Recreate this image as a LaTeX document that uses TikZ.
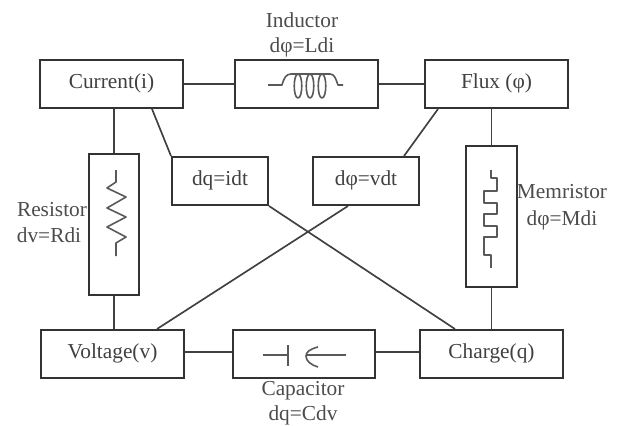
\documentclass[tikz,border=0pt]{standalone}
\usepackage{fontspec}
\setmainfont{Liberation Serif}
\usetikzlibrary{calc}
\newcommand{\bx}[6]{\node[box,anchor=north west,minimum width=#4*0.75pt,minimum height=#5*0.75pt] (#1) at (#2,#3) {#6};}
\begin{document}
\begin{tikzpicture}[x=0.75pt,y=-0.75pt,
  lab/.style={font=\fontsize{16pt}{18pt}\selectfont,text=black!70,inner sep=0pt,text height=9pt,text depth=3pt},
  box/.style={lab,draw=black!80,line width=1.5pt,inner sep=0pt,text=black!75},
  wire/.style={draw=black!75,line width=1.25pt},
  sym/.style={draw=black!65,line width=1.2pt,line join=round}]
\useasboundingbox (0,0) rectangle (620,425);
\bx{cur}{39}{59}{143}{48}{Current(i)}
\bx{ind}{234}{59}{143}{48}{}
\bx{flx}{424}{59}{143}{48}{Flux (φ)}
\bx{res}{87.5}{152.5}{50.5}{141}{}
\bx{mem}{465}{145}{51}{141}{}
\bx{idt}{171}{156}{96}{48}{dq=idt}
\bx{vdt}{312}{156}{106}{48}{dφ=vdt}
\bx{vol}{40}{329}{143}{48}{Voltage(v)}
\bx{cap}{232}{329}{142}{48}{}
\bx{chg}{419}{329}{143}{48}{Charge(q)}
\draw[wire] (cur.east) -- (ind.west);
\draw[wire] (ind.east) -- (flx.west);
\draw[wire] (res.north |- cur.south) -- (res.north);
\draw[wire] (res.south) -- (res.south |- vol.north);
\draw[wire] (mem.north |- flx.south) -- (mem.north);
\draw[wire] (mem.south) -- (mem.south |- chg.north);
\draw[wire] ([yshift=1.5pt]vol.east) -- ([yshift=1.5pt]cap.west);
\draw[wire] ([yshift=1.5pt]cap.east) -- ([yshift=1.5pt]chg.west);
\draw[wire] ($(cur.south west)+(113,0)$) -- (idt.north west);
\draw[wire] ($(flx.south west)+(14,0)$) -- ($(vdt.north east)+(-16,0)$);
\draw[wire] (idt.south east) -- ($(chg.north west)+(36,0)$);
\draw[wire] ($(vdt.south west)+(36,0)$) -- ($(vol.north west)+(117,0)$);
% inductor
\draw[sym] (268,85) -- (282,85) .. controls (284,78) and (286,74) .. (291,74)
  -- (298,74) .. controls (303,74) and (303,98) .. (298,98) .. controls (293,98) and (293,74) .. (298,74)
  -- (310,74) .. controls (315,74) and (315,98) .. (310,98) .. controls (305,98) and (305,74) .. (310,74)
  -- (322,74) .. controls (327,74) and (327,98) .. (322,98) .. controls (317,98) and (317,74) .. (322,74)
  -- (330,74) .. controls (335,74) and (336,80) .. (338,85) -- (343,85);
% resistor
\draw[sym] (116,170) -- (116,182) -- (107,188) -- (126,197) -- (107,208) -- (126,217) -- (107,227) -- (126,237) -- (116,243) -- (116,256);
% memristor
\draw[sym] (491,170) -- (491,178) -- (497,178) -- (497,191) -- (484,191) -- (484,203) -- (497,203) -- (497,214) -- (484,214) -- (484,226) -- (497,226) -- (497,237) -- (484,237) -- (484,255) -- (491,255) -- (491,268);
% capacitor
\draw[sym] (263,355) -- (288,355) (288,345) -- (288,366);
\draw[sym] (318,347) .. controls (310,349) and (306,352) .. (306,356) .. controls (306,361) and (311,365) .. (318,367);
\draw[sym] (306,355) -- (346,355);
% labels
\node[lab] (l1) at (302,23) {Inductor};
\node[lab] (l2) at (302,48) {dφ=Ldi};
\node[lab] (l3) at (52,212) {Resistor};
\node[lab] (l4) at (49,238) {dv=Rdi};
\node[lab] (l5) at (562,194) {Memristor};
\node[lab] (l6) at (562,221) {dφ=Mdi};
\node[lab] (l7) at (303,391) {Capacitor};
\node[lab] (l8) at (303,416) {dq=Cdv};
\end{tikzpicture}
\end{document}
